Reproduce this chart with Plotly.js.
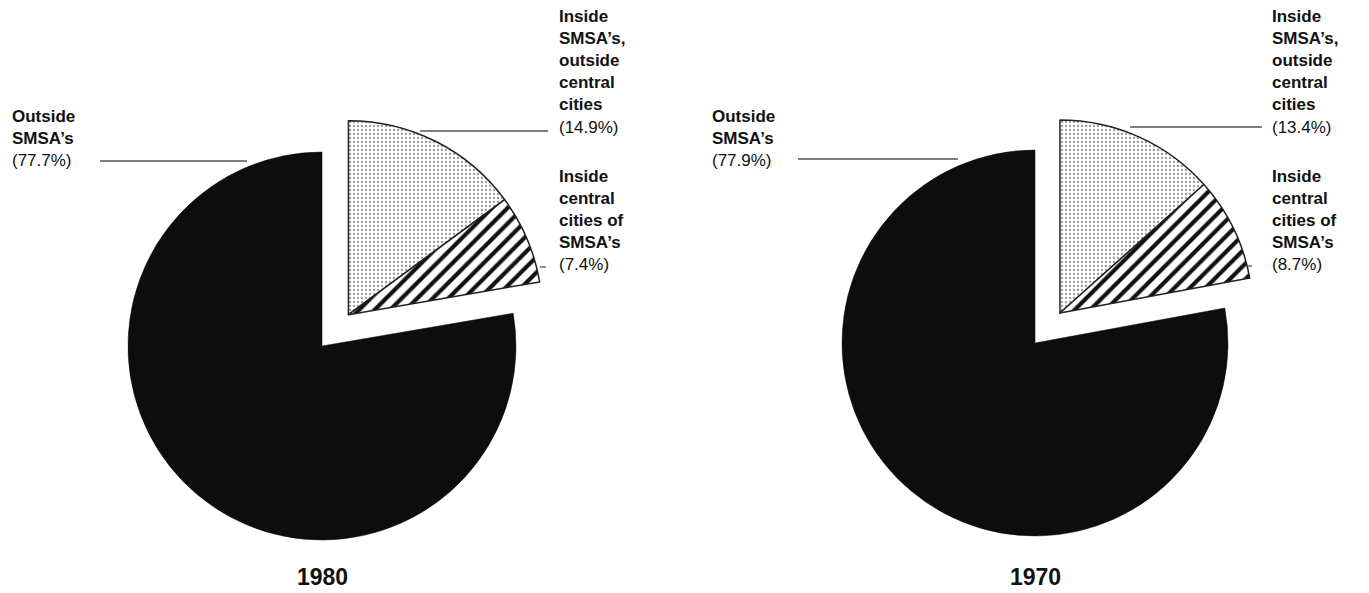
<!DOCTYPE html>
<html>
<head>
<meta charset="utf-8">
<script src="https://cdn.plot.ly/plotly-3.0.1.min.js"></script>
<style>html,body{margin:0;padding:0;background:#fff;}#chart{width:1369px;height:593px;}</style>
</head>
<body>
<div id="chart"></div>
<script>
// ---- data ----
const years = ['1980', '1970'];
const categories = ["Inside SMSA’s, outside central cities", "Inside central cities of SMSA’s", "Outside SMSA’s"];
const values1980 = [14.9, 7.4, 77.7];
const values1970 = [13.4, 8.7, 77.9];
const labelLines = [
  ['Inside', 'SMSA’s,', 'outside', 'central', 'cities'],
  ['Inside', 'central', 'cities of', 'SMSA’s'],
  ['Outside', 'SMSA’s']
];

// ---- layout helpers ----
const W = 1369, H = 593;
const FONT = 'Liberation Sans, Arial, Helvetica, sans-serif';
const pies = [
  {cx: 322, cy: 346, r: 194, pull: 41,
   outLabel: {x: 10, y: 105}, upLabel: {x: 557, y: 5}, lowLabel: {x: 557, y: 165},
   lines: [[100, 247, 161], [420, 548, 131], [540, 546, 267]], title: {x: 322, y: 577}},
  {cx: 1035, cy: 343, r: 193, pull: 39,
   outLabel: {x: 710, y: 105}, upLabel: {x: 1270, y: 5}, lowLabel: {x: 1270, y: 165},
   lines: [[798, 958, 159], [1130, 1262, 127], [1248, 1252, 266]], title: {x: 1035, y: 577}}
];
const allValues = [values1980, values1970];

function dom(cx, cy, r) {
  return {x: [(cx - r) / W, (cx + r) / W], y: [(H - cy - r) / H, (H - cy + r) / H]};
}

const traces = [];
const annotations = [];
const shapes = [];

pies.forEach((p, i) => {
  const vals = allValues[i];
  const total = vals.reduce((a, b) => a + b, 0);
  // base pie: only the big dark slice visible
  traces.push({
    type: 'pie', values: vals, labels: categories, sort: false, direction: 'clockwise', rotation: 0,
    textinfo: 'none', hoverinfo: 'label+percent', showlegend: false,
    domain: dom(p.cx, p.cy, p.r),
    marker: {
      colors: ['rgba(0,0,0,0)', 'rgba(0,0,0,0)', '#0d0d0d'],
      line: {color: ['rgba(0,0,0,0)', 'rgba(0,0,0,0)', '#0d0d0d'], width: [0, 0, 0.5]}
    }
  });
  // exploded group: two small slices shifted together
  const a = (vals[0] + vals[1]) / total * Math.PI; // mid-angle of group from 12 o'clock
  const ox = p.cx + p.pull * Math.sin(a), oy = p.cy - p.pull * Math.cos(a);
  traces.push({
    type: 'pie', values: vals, labels: categories, sort: false, direction: 'clockwise', rotation: 0,
    textinfo: 'none', hoverinfo: 'label+percent', showlegend: false,
    domain: dom(ox, oy, p.r),
    marker: {
      colors: ['#eeeeee', '#ffffff', 'rgba(0,0,0,0)'],
      line: {color: ['#222', '#222', 'rgba(0,0,0,0)'], width: [1.5, 1.5, 0]},
      pattern: {shape: ['.', '/', ''], fgcolor: ['#9a9a9a', '#111', '#000'], size: [4, 11, 8],
                solidity: [0.25, 0.38, 0.3], fillmode: 'replace'}
    }
  });

  const txt = (k) => labelLines[k].map(s => '<b>' + s + '</b>').join('<br>') + '<br>(' + vals[k].toFixed(1) + '%)';
  const addLabel = (pos, k) => annotations.push({
    xref: 'paper', yref: 'paper', x: pos.x / W, y: 1 - pos.y / H, xanchor: 'left', yanchor: 'top',
    align: 'left', showarrow: false, text: txt(k), font: {family: FONT, size: 17, color: '#111'}
  });
  addLabel(p.outLabel, 2);
  addLabel(p.upLabel, 0);
  addLabel(p.lowLabel, 1);
  annotations.push({
    xref: 'paper', yref: 'paper', x: p.title.x / W, y: 1 - p.title.y / H, xanchor: 'center', yanchor: 'middle',
    showarrow: false, text: '<b>' + years[i] + '</b>', font: {family: FONT, size: 23, color: '#111'}
  });
  p.lines.forEach(l => shapes.push({
    type: 'line', xref: 'paper', yref: 'paper', x0: l[0] / W, x1: l[1] / W, y0: 1 - l[2] / H, y1: 1 - l[2] / H,
    line: {color: '#555', width: 1.3}
  }));
});

const layout = {
  width: W, height: H, margin: {l: 0, r: 0, t: 0, b: 0},
  paper_bgcolor: '#fff', plot_bgcolor: '#fff', showlegend: false,
  annotations: annotations, shapes: shapes, font: {family: FONT}
};
Plotly.newPlot('chart', traces, layout, {displayModeBar: false, staticPlot: true});
</script>
</body>
</html>
